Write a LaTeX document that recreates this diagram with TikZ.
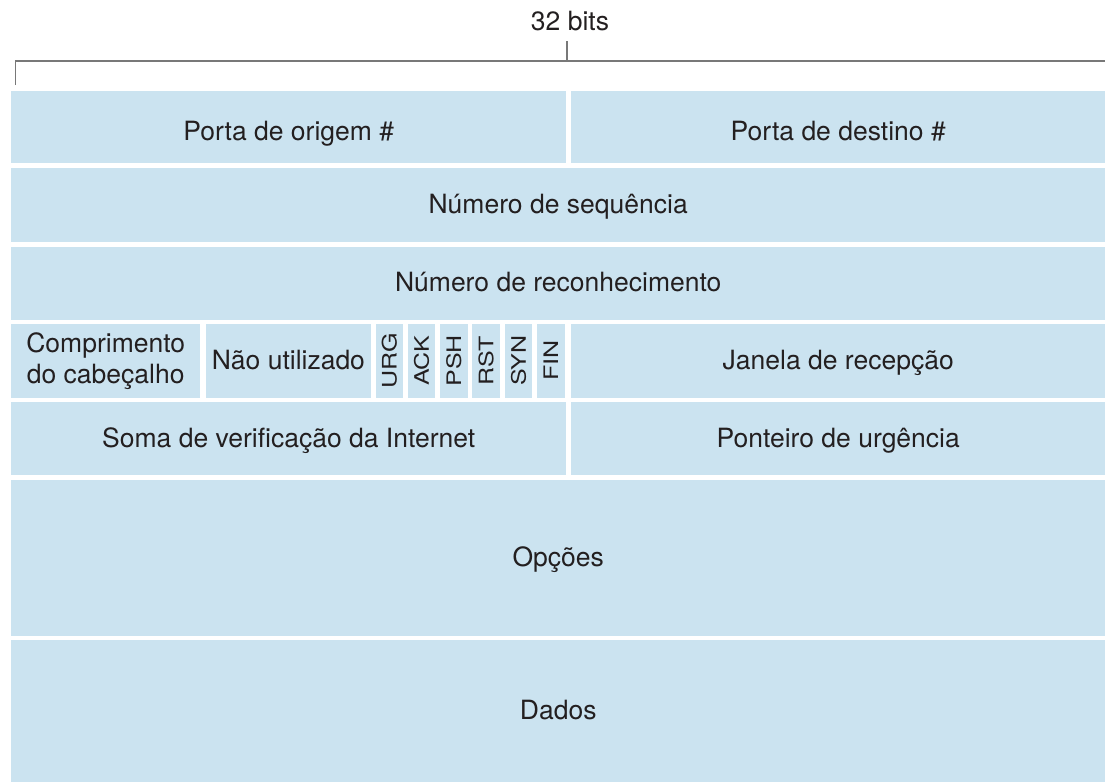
\documentclass[tikz,border=0pt]{standalone}
\usepackage{fontspec}
\setmainfont{TeX Gyre Heros}
\usepackage{tikz}
\usetikzlibrary{positioning,calc}

\definecolor{fieldblue}{RGB}{203,227,240}
\definecolor{textgray}{RGB}{35,31,32}
\definecolor{rulegray}{RGB}{120,120,120}
\newcommand{\fieldfont}{\fontsize{26.5}{31}\selectfont}
\newcommand{\flagfont}{\fontsize{20}{20}\selectfont}

\begin{document}
\begin{tikzpicture}[
  x=1pt, y=-1pt,
  every node/.style={text=textgray},
  field/.style={fill=fieldblue, anchor=north west, inner sep=0pt, font=\fieldfont, align=center},
  line/.style={field, text height=23pt, text depth=5.5pt},
  flag/.style={fill=fieldblue, rotate=90, inner sep=0pt, font=\flagfont,
    minimum width=74.5pt, minimum height=27.5pt},
  brace/.style={draw=rulegray, line width=1.3pt}
]
  \useasboundingbox (0,0) rectangle (1105,782);

  % Width bracket
  \node[font=\fieldfont] (bits) at (570,21) {32 bits};
  \coordinate (tickL) at (15.5,85);
  \coordinate (cornerL) at (15.5,61);
  \coordinate (endR) at (1105,61);
  \coordinate (midB) at (567,61);
  \coordinate (midT) at (567,41);
  \draw[brace] (tickL) -- (cornerL) -- (endR);
  \draw[brace] (midT) -- (midB);

  % Row 1
  \node[line, minimum width=555pt, minimum height=72pt, text height=33pt] (srcport) at (11,91) {Porta de origem \#};
  \node[line, minimum width=534pt, minimum height=72pt, text height=33pt] (dstport) at (571,91) {Porta de destino \#};

  % Row 2
  \node[line, minimum width=1094pt, minimum height=74pt] (seqnum) at (11,168) {Número de sequência};

  % Row 3
  \node[line, minimum width=1094pt, minimum height=73pt] (acknum) at (11,246.5) {Número de reconhecimento};

  % Row 4
  \node[field, minimum width=189pt, minimum height=74.5pt] (hdrlen) at (11,323.5) {Comprimento\\do cabeçalho};
  \node[line, minimum width=165.5pt, minimum height=74.5pt] (unused) at (205.5,323.5) {Não utilizado};
  \node[flag] (urg) at (389.3,360.75) {\scalebox{1.25}[1]{URG}};
  \node[flag] (ack) at (421.6,360.75) {\scalebox{1.25}[1]{ACK}};
  \node[flag] (psh) at (453.9,360.75) {\scalebox{1.25}[1]{PSH}};
  \node[flag] (rst) at (486.2,360.75) {\scalebox{1.25}[1]{RST}};
  \node[flag] (syn) at (518.5,360.75) {\scalebox{1.25}[1]{SYN}};
  \node[flag] (fin) at (550.8,360.75) {\scalebox{1.25}[1]{FIN}};
  \node[line, minimum width=534pt, minimum height=74.5pt] (rwnd) at (571,323.5) {Janela de recepção};

  % Row 5
  \node[line, minimum width=555pt, minimum height=73.5pt] (checksum) at (11,401.5) {Soma de verificação da Internet};
  \node[line, minimum width=534pt, minimum height=73.5pt] (urgptr) at (571,401.5) {Ponteiro de urgência};

  % Options and data
  \node[line, minimum width=1094pt, minimum height=156.5pt] (options) at (11,479.5) {Opções};
  \node[line, minimum width=1094pt, minimum height=142pt] (data) at (11,640) {Dados};
\end{tikzpicture}
\end{document}
